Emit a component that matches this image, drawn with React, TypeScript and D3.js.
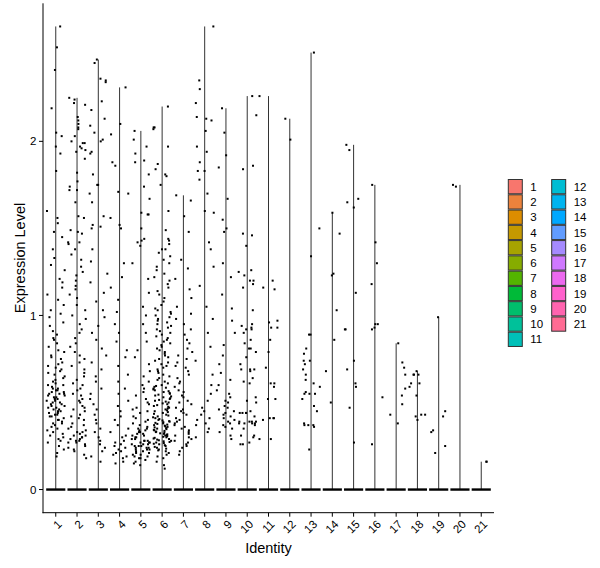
import React from 'react';
import * as d3 from 'd3';

// cluster ids on the x axis
const identities = ['1', '2', '3', '4', '5', '6', '7', '8', '9', '10', '11', '12', '13', '14', '15', '16', '17', '18', '19', '20', '21'];

// legend colours (ggplot hue palette, 21 levels)
const clusterColors = [
  '#F8766D', '#EC823C', '#DD8D00', '#C59900', '#A7A300', '#86AC00', '#53B400',
  '#00BA38', '#00BE6C', '#00C19A', '#00C0B8', '#00BDD3', '#00B4EF', '#00A8FF',
  '#619CFF', '#A58AFF', '#CF78FF', '#EC69EF', '#FF61CC', '#FF64AF', '#FF6B93',
];

// non-zero expression values read off each cluster
const cluster1 = [
  2.66, 2.54, 2.41, 2.19, 2.03, 1.93, 1.97, 2.05, 1.83, 1.6, 1.56, 1.53, 1.48, 1.45, 1.38,
  1.33, 1.29, 1.26, 1.21, 1.19, 1.16, 1.12, 1.09, 1.06, 1.03, 1.01, 0.99, 0.96, 0.94, 0.91, 0.89,
  0.87, 0.86, 0.84, 0.82, 0.8, 0.79, 0.77, 0.76, 0.75, 0.73, 0.72, 0.71, 0.7, 0.69, 0.68, 0.67,
  0.66, 0.65, 0.64, 0.63, 0.62, 0.61, 0.6, 0.6, 0.59, 0.58, 0.58, 0.57, 0.57, 0.56, 0.56, 0.55,
  0.55, 0.55, 0.54, 0.54, 0.53, 0.53, 0.52, 0.52, 0.51, 0.51, 0.5, 0.5, 0.49, 0.49, 0.48, 0.48,
  0.47, 0.47, 0.46, 0.46, 0.45, 0.45, 0.44, 0.44, 0.43, 0.43, 0.42, 0.42, 0.41, 0.4, 0.4, 0.39,
  0.38, 0.38, 0.37, 0.36, 0.35, 0.34, 0.33, 0.32, 0.31, 0.3, 0.29, 0.28, 0.27, 0.25, 0.23, 0.21, 0.19,
];
const cluster2 = [
  2.25, 2.24, 2.22, 2.21, 2.14, 2.12, 2.07, 2.1, 2.08, 2.03, 1.99, 1.99, 2.0, 1.96, 1.97, 1.95,
  1.94, 1.9, 1.82, 1.77, 1.72, 1.74, 1.72, 1.65, 1.56, 1.57, 1.49, 1.48, 1.47, 1.42, 1.42, 1.41,
  1.38, 1.35, 1.32, 1.28, 1.25, 1.23, 1.2, 1.17, 1.15, 1.12, 1.1, 1.06, 1.03, 1.0, 0.98, 0.95,
  0.92, 0.9, 0.87, 0.84, 0.82, 0.79, 0.77, 0.75, 0.73, 0.71, 0.69, 0.67, 0.65, 0.63, 0.61, 0.6,
  0.58, 0.57, 0.55, 0.54, 0.52, 0.51, 0.5, 0.48, 0.47, 0.46, 0.45, 0.43, 0.42, 0.41, 0.4, 0.38,
  0.37, 0.36, 0.35, 0.34, 0.33, 0.33, 0.32, 0.31, 0.31, 0.3, 0.3, 0.29, 0.29, 0.28, 0.28, 0.27,
  0.27, 0.26, 0.25, 0.24, 0.23, 0.22, 0.2, 0.18,
];
const cluster3 = [
  2.47, 2.45, 2.34, 2.36, 2.35, 2.23, 2.18, 2.13, 2.09, 2.05, 2.01, 2.0, 1.94, 1.93, 1.81, 1.75,
  1.75, 1.65, 1.7, 1.5, 1.51, 1.57, 1.52, 1.38, 1.31, 1.24, 1.19, 1.13, 1.08, 1.03, 0.99, 0.94,
  0.9, 0.86, 0.81, 0.77, 0.73, 0.69, 0.65, 0.62, 0.58, 0.55, 0.52, 0.49, 0.46, 0.43, 0.4, 0.38,
  0.35, 0.33, 0.3, 0.28, 0.26, 0.24, 0.22, 0.19, 0.16,
];
const cluster4 = [
  2.31, 2.1, 2.04, 1.88, 1.86, 1.7, 1.71, 1.56, 1.52, 1.5, 1.3, 1.22, 1.16, 1.09, 1.02, 0.95,
  0.9, 0.85, 0.8, 0.76, 0.71, 0.66, 0.62, 0.58, 0.55, 0.51, 0.48, 0.45, 0.42, 0.4, 0.37, 0.35,
  0.33, 0.31, 0.3, 0.28, 0.27, 0.26, 0.25, 0.24, 0.23, 0.22, 0.21, 0.2, 0.19, 0.18, 0.16, 0.15,
];
const cluster5 = [
  2.06, 2.01, 1.97, 1.93, 1.88, 1.89, 1.81, 1.74, 1.67, 1.58, 1.59, 1.58, 1.5, 1.42, 1.44, 1.43,
  1.4, 1.3, 1.21, 1.13, 1.05, 1.0, 0.95, 0.9, 0.85, 0.8, 0.76, 0.72, 0.68, 0.65, 0.62, 0.6,
  0.58, 0.56, 0.54, 0.52, 0.5, 0.49, 0.47, 0.46, 0.45, 0.44, 0.42, 0.41, 0.4, 0.39, 0.38, 0.37,
  0.36, 0.35, 0.35, 0.34, 0.34, 0.33, 0.33, 0.32, 0.32, 0.31, 0.31, 0.3, 0.3, 0.29, 0.29, 0.28,
  0.28, 0.28, 0.27, 0.27, 0.27, 0.26, 0.26, 0.26, 0.25, 0.25, 0.25, 0.24, 0.24, 0.24, 0.23, 0.23,
  0.23, 0.22, 0.22, 0.21, 0.21, 0.2, 0.2, 0.19, 0.19, 0.18, 0.18, 0.17, 0.16, 0.15, 0.14,
];
const cluster6 = [
  2.2, 2.08, 2.07, 1.97, 2.08, 1.87, 1.84, 1.81, 1.75, 1.8, 1.6, 1.49, 1.43, 1.38, 1.44, 1.36,
  1.41, 1.38, 1.34, 1.32, 1.3, 1.28, 1.26, 1.24, 1.22, 1.2, 1.18, 1.16, 1.14, 1.12, 1.1, 1.08,
  1.06, 1.04, 1.03, 1.02, 1.01, 1.0, 0.99, 0.98, 0.97, 0.96, 0.95, 0.94, 0.93, 0.92, 0.91, 0.9,
  0.89, 0.88, 0.87, 0.86, 0.85, 0.84, 0.83, 0.82, 0.81, 0.8, 0.79, 0.78, 0.77, 0.76, 0.75, 0.74,
  0.73, 0.72, 0.71, 0.7, 0.69, 0.68, 0.67, 0.66, 0.65, 0.64, 0.63, 0.62, 0.61, 0.6, 0.595, 0.59,
  0.585, 0.58, 0.575, 0.57, 0.565, 0.56, 0.555, 0.55, 0.545, 0.54, 0.535, 0.53, 0.525, 0.52, 0.515,
  0.51, 0.505, 0.5, 0.495, 0.49, 0.485, 0.48, 0.475, 0.47, 0.465, 0.46, 0.455, 0.45, 0.445, 0.44,
  0.435, 0.43, 0.425, 0.42, 0.415, 0.41, 0.405, 0.4, 0.397, 0.393, 0.39, 0.387, 0.383, 0.38, 0.377,
  0.373, 0.37, 0.367, 0.363, 0.36, 0.357, 0.353, 0.35, 0.347, 0.343, 0.34, 0.337, 0.333, 0.33,
  0.327, 0.323, 0.32, 0.317, 0.313, 0.31, 0.307, 0.303, 0.3, 0.297, 0.293, 0.29, 0.287, 0.283,
  0.28, 0.277, 0.273, 0.27, 0.267, 0.263, 0.26, 0.255, 0.25, 0.245, 0.24, 0.235, 0.23, 0.225,
  0.22, 0.21, 0.2, 0.19, 0.18, 0.16, 0.14, 0.12,
];
const cluster7 = [
  1.69, 1.66, 1.57, 1.48, 1.32, 1.27, 1.21, 1.15, 1.1, 1.05, 1.01, 0.98, 0.95, 0.92, 0.89, 0.86,
  0.84, 0.81, 0.79, 0.77, 0.75, 0.73, 0.71, 0.7, 0.68, 0.66, 0.64, 0.62, 0.61, 0.59, 0.57, 0.56,
  0.54, 0.53, 0.51, 0.5, 0.49, 0.47, 0.46, 0.45, 0.44, 0.43, 0.41, 0.4, 0.39, 0.38, 0.37, 0.36,
  0.35, 0.34, 0.33, 0.32, 0.31, 0.3, 0.29, 0.28, 0.27, 0.26, 0.25, 0.24, 0.22, 0.2,
];
const cluster8 = [
  2.66, 2.35, 2.3, 2.22, 2.14, 2.13, 2.12, 2.06, 1.97, 1.94, 1.88, 1.83, 1.83, 1.78, 1.7, 1.6,
  1.59, 1.42, 1.38, 1.28, 1.17, 1.05, 0.98, 0.9, 0.82, 0.74, 0.66, 0.6, 0.55, 0.51, 0.47, 0.45,
  0.43, 0.41, 0.4, 0.38, 0.37, 0.35, 0.33, 0.3,
];
const cluster9 = [
  2.19, 2.05, 1.92, 1.85, 1.67, 1.55, 1.5, 1.48, 1.3, 1.22, 1.12, 1.04, 0.97, 0.9, 0.83, 0.77,
  0.72, 0.67, 0.63, 0.6, 0.57, 0.55, 0.53, 0.51, 0.5, 0.48, 0.47, 0.46, 0.45, 0.44, 0.43, 0.42,
  0.41, 0.4, 0.39, 0.38, 0.37, 0.36, 0.35, 0.33, 0.31, 0.29,
];
const cluster10 = [
  2.26, 2.15, 1.86, 1.84, 1.47, 1.46, 1.4, 1.26, 1.25, 1.23, 1.2, 1.2, 1.18, 1.16, 1.03, 0.95,
  0.93, 0.94, 0.92, 0.92, 0.86, 0.9, 0.84, 0.81, 0.81, 0.79, 0.76, 0.72, 0.69, 0.69, 0.69, 0.68,
  0.64, 0.62, 0.61, 0.53, 0.51, 0.5, 0.44, 0.45, 0.44, 0.44, 0.44, 0.42, 0.39, 0.39, 0.38, 0.38,
  0.38, 0.39, 0.37, 0.39, 0.38, 0.35, 0.31, 0.31, 0.3, 0.27, 0.26, 0.26,
];
const cluster11 = [
  2.26, 1.16, 1.2, 1.15, 0.97, 0.96, 0.93, 0.93, 0.86, 0.79, 0.7, 0.61, 0.61, 0.59, 0.52, 0.52,
  0.41, 0.41, 0.41, 0.4, 0.29, 0.29,
];
const cluster12 = [2.13, 2.01];
const cluster13 = [
  2.51, 1.5, 1.34, 0.89, 0.89, 0.81, 0.78, 0.74, 0.74, 0.72, 0.69, 0.66, 0.63, 0.61, 0.59, 0.56,
  0.55, 0.55, 0.55, 0.52, 0.48, 0.45, 0.37, 0.36, 0.38, 0.37, 0.37, 0.23,
];
const cluster14 = [1.59, 1.47, 1.03, 0.86, 1.23, 1.24, 0.68, 0.5];
const cluster15 = [1.98, 1.95, 1.65, 1.62, 1.67, 1.13, 0.92, 0.92, 0.74, 0.69, 0.61, 0.59, 0.47, 0.27];
const cluster16 = [1.75, 1.42, 1.3, 1.18, 0.95, 0.95, 0.93, 0.92, 0.53, 0.26];
const cluster17 = [0.84, 0.73, 0.7, 0.66, 0.58, 0.54, 0.49, 0.43, 0.38];
const cluster18 = [0.68, 0.66, 0.66, 0.66, 0.61, 0.61, 0.59, 0.54, 0.43, 0.43, 0.42, 0.4];
const cluster19 = [0.99, 0.45, 0.42, 0.34, 0.33, 0.25, 0.21];
const cluster20 = [1.75, 1.74];
const cluster21 = [0.16, 0.16];

const clusterValues = [
  cluster1, cluster2, cluster3, cluster4, cluster5, cluster6, cluster7, cluster8, cluster9, cluster10,
  cluster11, cluster12, cluster13, cluster14, cluster15, cluster16, cluster17, cluster18, cluster19,
  cluster20, cluster21,
];

const yTicks = [0, 1, 2];

const W = 600;
const H = 568;
const panel = { left: 43, right: 494, top: 3.3, bottom: 512.7 };
const FONT = 'Liberation Sans, Arial, sans-serif';

// deterministic horizontal jitter in [-0.5, 0.5)
const jitter = (g: number, i: number) => {
  const s = Math.sin((i + 1) * 12.9898 + (g + 1) * 78.233) * 43758.5453;
  return s - Math.floor(s) - 0.5;
};

export default function App() {
  const x = d3.scalePoint<string>().domain(identities).range([panel.left, panel.right]).padding(0.6);
  const step = x.step();
  const yMax = d3.max(clusterValues, v => d3.max(v)) as number;
  const y = d3.scaleLinear().domain([-0.05 * yMax, yMax * 1.05]).range([panel.bottom, panel.top]);

  const half = step * 0.45;
  const legendRow = 15.27;

  return (
    <svg width={W} height={H} style={{ position: 'absolute', left: 0, top: 0, background: '#fff' }} fontFamily={FONT}>
      {/* violins: nearly all cells are zero, so each collapses to a bar at 0 and a thin line to the max */}
      {identities.map((id, g) => {
        const cx = x(id) as number;
        const vmax = d3.max(clusterValues[g]) as number;
        return (
          <g key={'v' + id}>
            <line x1={cx} x2={cx} y1={y(0)} y2={y(vmax)} stroke="#333" strokeWidth={1} />
            <line x1={cx - half} x2={cx + half} y1={y(0)} y2={y(0)} stroke="#000" strokeWidth={2.4} />
          </g>
        );
      })}

      {/* jittered cells */}
      {identities.map((id, g) => {
        const cx = x(id) as number;
        return clusterValues[g].map((v, i) => (
          <rect key={id + '-' + i} x={cx + jitter(g, i) * step * 0.86 - 1} y={y(v) - 1} width={2} height={2} fill="#000" />
        ));
      })}

      {/* axes */}
      <line x1={panel.left} x2={panel.left} y1={panel.top} y2={panel.bottom + 0.5} stroke="#000" strokeWidth={1} />
      <line x1={panel.left - 0.5} x2={panel.right} y1={panel.bottom} y2={panel.bottom} stroke="#000" strokeWidth={1} />
      {yTicks.map(t => (
        <g key={'yt' + t}>
          <line x1={panel.left - 4} x2={panel.left} y1={y(t)} y2={y(t)} stroke="#000" />
          <text x={panel.left - 6.5} y={y(t)} dy="0.36em" textAnchor="end" fontSize={11.5} fill="#000">{t}</text>
        </g>
      ))}
      {identities.map(id => {
        const cx = x(id) as number;
        return (
          <g key={'xt' + id}>
            <line x1={cx} x2={cx} y1={panel.bottom} y2={panel.bottom + 4} stroke="#000" />
            <text transform={`translate(${cx + 1},${panel.bottom + 6.5}) rotate(-45)`} dy="0.72em" textAnchor="end" fontSize={11.5} fill="#000">{id}</text>
          </g>
        );
      })}
      <text x={(panel.left + panel.right) / 2} y={553} textAnchor="middle" fontSize={14.5} fill="#000">Identity</text>
      <text transform={`translate(24.5,${(panel.top + panel.bottom) / 2}) rotate(-90)`} textAnchor="middle" fontSize={14.5} fill="#000">Expression Level</text>

      {/* legend, two columns of 11 + 10 */}
      {identities.map((id, g) => {
        const col = g < 11 ? 0 : 1;
        const row = g < 11 ? g : g - 11;
        const kx = col === 0 ? 508.3 : 551.7;
        const ky = 179 + row * legendRow;
        return (
          <g key={'lg' + id}>
            <rect x={kx} y={ky + 0.5} width={14} height={legendRow - 1} fill={clusterColors[g]} stroke="#333" strokeWidth={1} />
            <text x={kx + 22} y={ky + legendRow / 2} dy="0.36em" fontSize={11.5} fill="#000">{id}</text>
          </g>
        );
      })}
    </svg>
  );
}
